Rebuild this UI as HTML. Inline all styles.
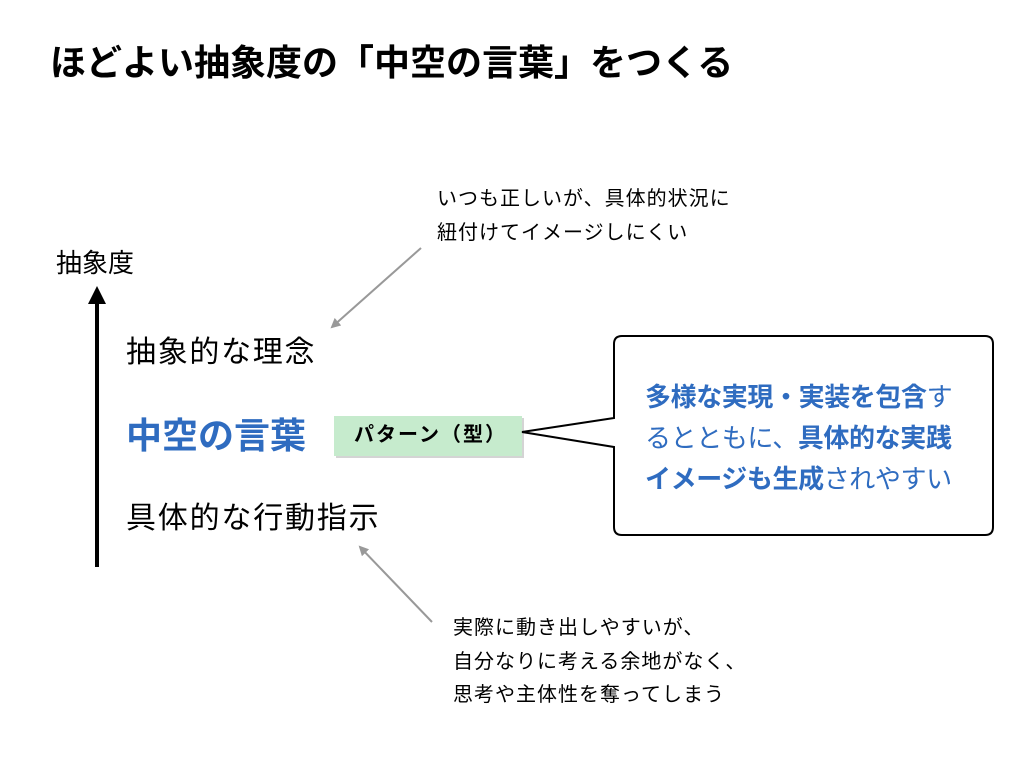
<!DOCTYPE html>
<html><head><meta charset="utf-8"><style>
body{margin:0;width:1024px;height:768px;background:#fff;position:relative;overflow:hidden;font-family:"Liberation Sans","Noto Sans CJK JP",sans-serif;}
.t{position:absolute;white-space:nowrap;line-height:1;}
</style></head><body>
<div class="t" style="left:50px;top:45px;font-size:36px;font-weight:bold;letter-spacing:0px;">ほどよい抽象度の「中空の言葉」をつくる</div>
<div class="t" style="left:437px;top:182px;font-size:20px;letter-spacing:1px;line-height:34px;">いつも正しいが、具体的状況に<br>紐付けてイメージしにくい</div>
<div class="t" style="left:56px;top:250px;font-size:26px;">抽象度</div>
<div class="t" style="left:126px;top:338px;font-size:30px;letter-spacing:1.7px;">抽象的な理念</div>
<div class="t" style="left:126px;top:418px;font-size:36px;font-weight:bold;color:#2f6cc0;">中空の言葉</div>
<div class="t" style="left:126px;top:504px;font-size:30px;letter-spacing:1.8px;">具体的な行動指示</div>
<div class="t" style="left:453px;top:612px;font-size:20px;letter-spacing:1px;line-height:33.5px;">実際に動き出しやすいが、<br>自分なりに考える余地がなく、<br>思考や主体性を奪ってしまう</div>
<svg width="1024" height="768" style="position:absolute;left:0;top:0">
<defs><marker id="g" markerWidth="10" markerHeight="10" refX="8" refY="5" orient="auto" markerUnits="userSpaceOnUse"><path d="M0,0 L10,5 L0,10 z" fill="#999"/></marker></defs>
<line x1="97" y1="567" x2="97" y2="302" stroke="#000" stroke-width="4"/>
<path d="M88,304 L97,286 L106,304 z" fill="#000"/>
<line x1="421" y1="248" x2="332" y2="327" stroke="#999" stroke-width="2" marker-end="url(#g)"/>
<line x1="432" y1="622" x2="360" y2="547" stroke="#999" stroke-width="2" marker-end="url(#g)"/>
<rect x="336" y="418" width="188" height="40" fill="#aaa" opacity="0.5"/>
<rect x="334" y="416" width="188" height="40" fill="#c6ebcd"/>
<path d="M622,336 L985,336 Q993,336 993,344 L993,527 Q993,535 985,535 L622,535 Q614,535 614,527 L614,447 L522,432 L614,418 L614,344 Q614,336 622,336 z" fill="#fff" stroke="#000" stroke-width="2"/>
</svg>
<div class="t" style="left:354px;top:425px;font-size:20px;font-weight:bold;letter-spacing:2px;">パターン（型）</div>
<div class="t" style="left:645px;top:377px;font-size:26px;letter-spacing:-0.4px;line-height:41px;color:#2f6cc0;"><b>多様な実現・実装を包含</b>す<br>るとともに、<b>具体的な実践</b><br><b>イメージも生成</b>されやすい</div>
</body></html>
